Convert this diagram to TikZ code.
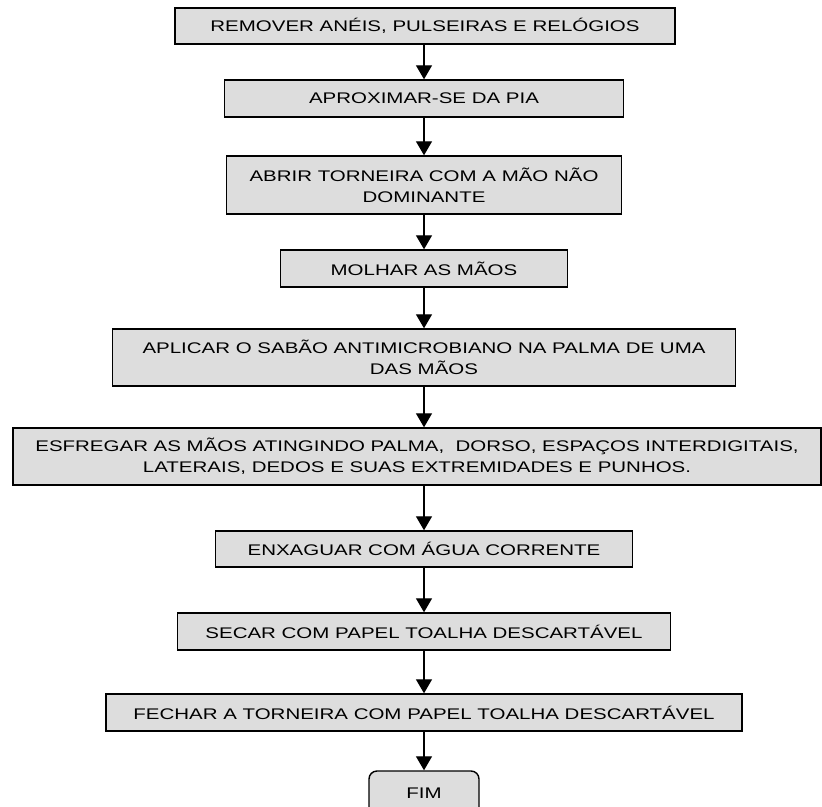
\documentclass[tikz,border=0pt]{standalone}
\usepackage{fontspec}
\setmainfont{Liberation Sans}[FakeStretch=1.33]
\usepackage{xcolor}
\definecolor{boxgray}{HTML}{DDDDDD}
\usetikzlibrary{arrows.meta,positioning,calc}

\tikzset{
    passo/.style={draw=black, line width=1.4pt, fill=boxgray, align=center, inner sep=0pt,
                  font=\fontsize{15.4}{21}\selectfont},
    fimbox/.style={passo, rounded corners=8pt},
    seta/.style={line width=1.3pt, -{Triangle[width=16pt,length=14pt]}}
}

\begin{document}
\begin{tikzpicture}[x=1pt,y=-1pt]
    \useasboundingbox (0,0) rectangle (822,806);
    % \draw[style=help lines,step=50] (0,0) grid (822,806);

    \node[passo, minimum width=500, minimum height=36] (remover) at (425,26) {REMOVER ANÉIS, PULSEIRAS E RELÓGIOS};
    \node[passo, minimum width=399, minimum height=37] (pia) at (424,98.5) {APROXIMAR-SE DA PIA};
    \node[passo, minimum width=395, minimum height=58] (abrir) at (424,185) {ABRIR TORNEIRA COM A MÃO NÃO\\DOMINANTE};
    \node[passo, minimum width=287, minimum height=37] (molhar) at (424,268.5) {MOLHAR AS MÃOS};
    \node[passo, minimum width=623, minimum height=57] (sabao) at (424,357.5) {APLICAR O SABÃO ANTIMICROBIANO NA PALMA DE UMA\\DAS MÃOS};
    \node[passo, minimum width=808, minimum height=57] (esfregar) at (417,456.5) {ESFREGAR AS MÃOS ATINGINDO PALMA,\ \ DORSO, ESPAÇOS INTERDIGITAIS,\\LATERAIS, DEDOS E SUAS EXTREMIDADES E PUNHOS.};
    \node[passo, minimum width=417, minimum height=36] (enxaguar) at (424,549) {ENXAGUAR COM ÁGUA CORRENTE};
    \node[passo, minimum width=493, minimum height=37] (secar) at (424,631.5) {SECAR COM PAPEL TOALHA DESCARTÁVEL};
    \node[passo, minimum width=636, minimum height=37] (fechar) at (424,712.5) {FECHAR A TORNEIRA COM PAPEL TOALHA DESCARTÁVEL};
    \node[fimbox, minimum width=110, minimum height=44] (fim) at (424,793) {FIM};

    \coordinate (eixo) at (424,0);

    \foreach \a/\b in {remover/pia, pia/abrir, abrir/molhar, molhar/sabao, sabao/esfregar,
                       esfregar/enxaguar, enxaguar/secar, secar/fechar, fechar/fim}
        \draw[seta] (eixo |- \a.south) -- (eixo |- \b.north);
\end{tikzpicture}
\end{document}
